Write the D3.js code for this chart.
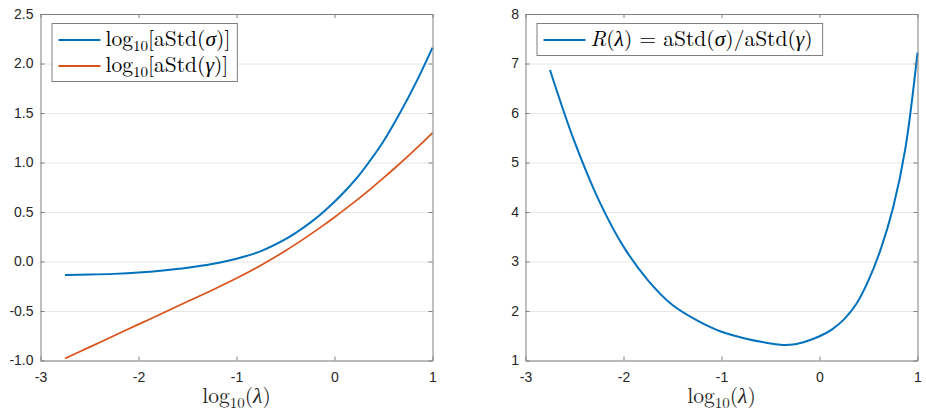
<!DOCTYPE html>
<html>
<head>
<meta charset="utf-8">
<script src="https://cdn.jsdelivr.net/npm/d3@7"></script>
<style>
  body { margin: 0; background: #fff; }
  svg { display: block; }
</style>
</head>
<body>
<svg id="chart"></svg>
<script>
const width = 926;
const height = 417;

// log10(lambda) sample points
const lambdaLog = [-2.75, -2.5, -2.25, -2, -1.75, -1.5, -1.25, -1, -0.75, -0.5, -0.375, -0.25, -0.125, 0, 0.125, 0.25, 0.375, 0.5, 0.625, 0.75, 0.875, 1];
// left panel
const stdSigma = [-0.136, -0.132, -0.125, -0.112, -0.091, -0.063, -0.025, 0.028, 0.105, 0.225, 0.303, 0.39, 0.49, 0.603, 0.73, 0.87, 1.035, 1.215, 1.425, 1.65, 1.895, 2.16];
const stdGamma = [-0.98, -0.865, -0.75, -0.635, -0.52, -0.405, -0.29, -0.17, -0.038, 0.109, 0.188, 0.271, 0.357, 0.447, 0.541, 0.638, 0.739, 0.844, 0.952, 1.064, 1.18, 1.30];
// right panel
const ratioR = [6.87, 5.42, 4.23, 3.30, 2.62, 2.12, 1.81, 1.58, 1.44, 1.345, 1.315, 1.33, 1.395, 1.49, 1.625, 1.83, 2.14, 2.62, 3.25, 4.08, 5.27, 7.22];

const xTicks = [-3, -2, -1, 0, 1];
const yTicksLeft = [-1, -0.5, 0, 0.5, 1, 1.5, 2, 2.5];
const yTicksRight = [1, 2, 3, 4, 5, 6, 7, 8];

const blue = "#0072BD";
const orange = "#D95319";
const serif = "'Latin Modern Roman','CMU Serif','Liberation Serif','Times New Roman',serif";
const sans = "'Liberation Sans',Arial,Helvetica,sans-serif";
const fs = 21.5;

const svg = d3.select("#chart").attr("width", width).attr("height", height);

// math-ish text built from segments: {t, it: italic, sub: subscript}
function mathText(sel, segs, size) {
  segs.forEach(s => {
    const ts = sel.append("tspan").text(s.t);
    if (s.it) ts.style("font-style", "italic");
    if (s.sub) ts.attr("font-size", size * 0.7).attr("dy", size * 0.22);
    if (s.after) ts.attr("dy", -size * 0.22);
  });
}

function panel(opt) {
  const g = svg.append("g");
  const x = d3.scaleLinear().domain([-3, 1]).range([opt.left, opt.right]);
  const y = d3.scaleLinear().domain(opt.yDomain).range([opt.bottom, opt.top]);

  // grid
  g.append("g")
    .attr("transform", `translate(${opt.left},0)`)
    .call(d3.axisLeft(y).tickValues(opt.yTicks).tickSize(-(opt.right - opt.left)).tickFormat(""))
    .call(a => a.select(".domain").remove())
    .call(a => a.selectAll("line").attr("stroke", "#e6e6e6"));

  // lines
  const line = vals => d3.line()
    .x((d, i) => x(lambdaLog[i]))
    .y(d => y(d))
    .curve(d3.curveCatmullRom.alpha(0.5))(vals);
  opt.series.forEach(s => {
    g.append("path").attr("d", line(s.values))
      .attr("fill", "none").attr("stroke", s.color).attr("stroke-width", s.w)
      .attr("stroke-linejoin", "round");
  });

  // axes, ticks pointing inward
  const styleAxis = a => {
    a.select(".domain").attr("stroke", "#808080");
    a.selectAll(".tick line").attr("stroke", "#808080");
    a.selectAll("text").attr("fill", "#262626").style("font-family", sans).style("font-size", "14px");
  };
  g.append("g").attr("transform", `translate(0,${opt.bottom})`)
    .call(d3.axisBottom(x).tickValues(xTicks).tickSize(-4).tickSizeOuter(0).tickPadding(12).tickFormat(d => String(d)))
    .call(styleAxis);
  g.append("g").attr("transform", `translate(0,${opt.top})`)
    .call(d3.axisTop(x).tickValues(xTicks).tickSize(-4).tickSizeOuter(0).tickFormat(""))
    .call(styleAxis);
  g.append("g").attr("transform", `translate(${opt.left},0)`)
    .call(d3.axisLeft(y).tickValues(opt.yTicks).tickSize(-4).tickSizeOuter(0).tickPadding(opt.pad).tickFormat(opt.fmt))
    .call(styleAxis);
  g.append("g").attr("transform", `translate(${opt.right},0)`)
    .call(d3.axisRight(y).tickValues(opt.yTicks).tickSize(-4).tickSizeOuter(0).tickFormat(""))
    .call(styleAxis);

  // x label
  const xl = g.append("text")
    .attr("x", (opt.left + opt.right) / 2).attr("y", 403)
    .attr("text-anchor", "middle")
    .style("font-family", serif).attr("font-size", fs).attr("fill", "#262626");
  mathText(xl, [{t: "log"}, {t: "10", sub: true}, {t: "(", after: true}, {t: "λ", it: true}, {t: ")"}], fs);

  // legend
  const lg = g.append("g");
  const box = lg.append("rect")
    .attr("x", opt.left + 11.5).attr("y", 23.5)
    .attr("fill", "#fff").attr("stroke", "#808080").attr("stroke-width", 1);
  let maxW = 0;
  opt.series.forEach((s, i) => {
    const cy = 40 + i * 26;
    lg.append("line")
      .attr("x1", opt.left + 18).attr("x2", opt.left + 60)
      .attr("y1", cy).attr("y2", cy)
      .attr("stroke", s.color).attr("stroke-width", 2);
    const t = lg.append("text")
      .attr("x", opt.left + 65).attr("y", cy + 6)
      .style("font-family", serif).attr("font-size", fs).attr("fill", "#000");
    mathText(t, s.label, fs);
    maxW = Math.max(maxW, t.node().getComputedTextLength());
  });
  box.attr("width", 65 - 11.5 + maxW + opt.legPad).attr("height", opt.series.length * 26 + 6);
}

panel({
  left: 40.5, right: 432.5, top: 14, bottom: 360.5, pad: 7, legPad: 7,
  yDomain: [-1, 2.5], yTicks: yTicksLeft, fmt: d => d.toFixed(1),
  series: [
    {values: stdSigma, color: blue, w: 2,
     label: [{t: "log"}, {t: "10", sub: true}, {t: "[aStd(", after: true}, {t: "σ", it: true}, {t: ")]"}]},
    {values: stdGamma, color: orange, w: 1.7,
     label: [{t: "log"}, {t: "10", sub: true}, {t: "[aStd(", after: true}, {t: "γ", it: true}, {t: ")]"}]}
  ]
});

panel({
  left: 525.5, right: 917.5, top: 14, bottom: 360.5, pad: 6.5, legPad: 10,
  yDomain: [1, 8], yTicks: yTicksRight, fmt: d => String(d),
  series: [
    {values: ratioR, color: blue, w: 2,
     label: [{t: "R", it: true}, {t: "("}, {t: "λ", it: true}, {t: ") = aStd("}, {t: "σ", it: true},
             {t: ")/aStd("}, {t: "γ", it: true}, {t: ")"}]}
  ]
});
</script>
</body>
</html>
